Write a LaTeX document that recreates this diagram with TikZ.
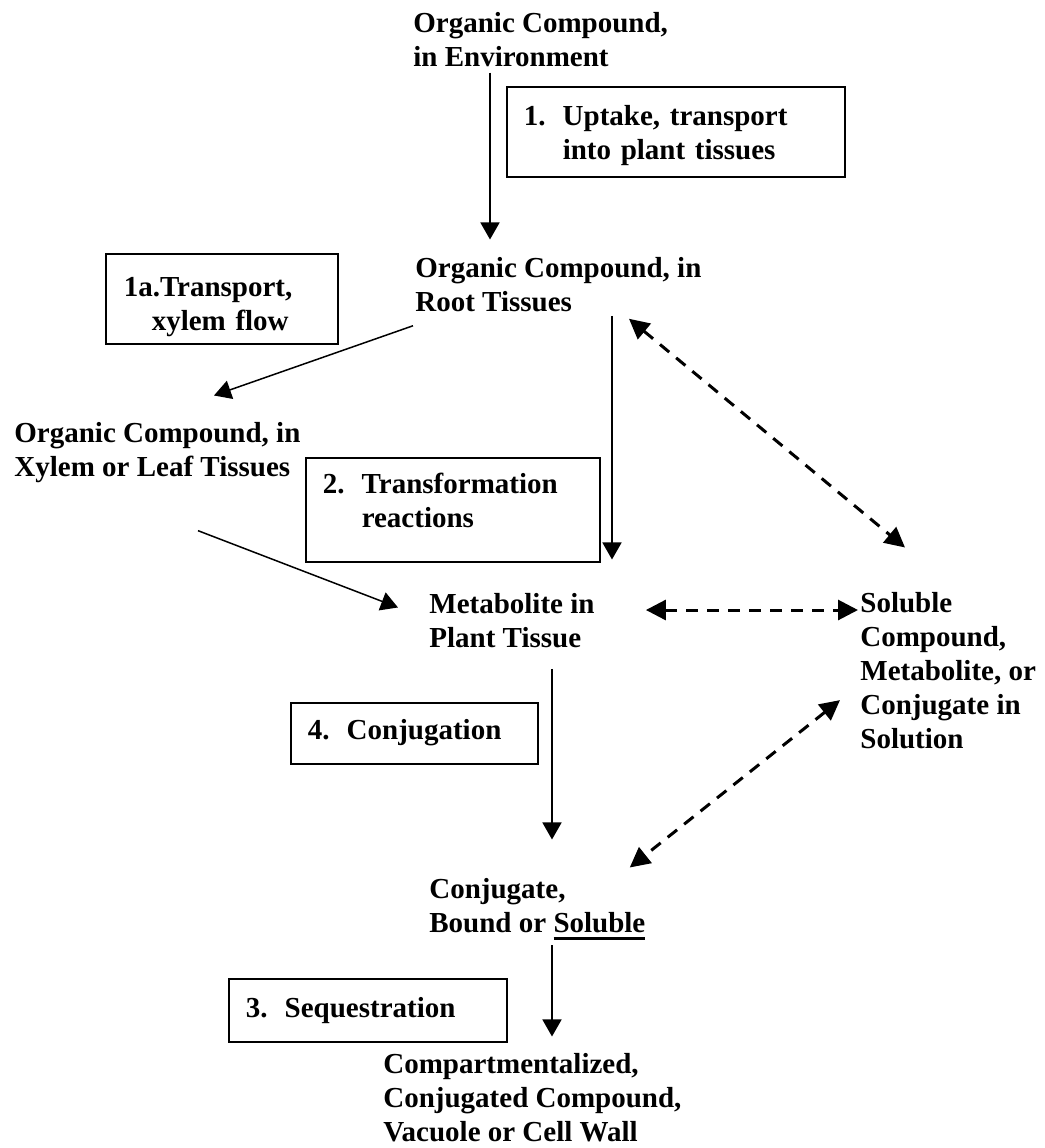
\documentclass[tikz,border=0pt]{standalone}
\usepackage{fontspec}
\setmainfont{Liberation Serif}
\usetikzlibrary{arrows.meta}

\newcommand\ulthick[1]{\setbox0\hbox{#1}\rlap{\rule[-3.75pt]{\wd0}{1.5pt}}\box0}
\newcommand\steplab[1]{\makebox[19.5pt][l]{#1}}

\begin{document}
\begin{tikzpicture}[
    x=0.5pt, y=-0.5pt,
    stage/.style={font=\fontsize{14.5pt}{17pt}\selectfont\bfseries,
                  align=left, inner sep=0pt, anchor=base west},
    stepbox/.style={draw, line width=0.75pt,
                    font=\fontsize{14.5pt}{17pt}\selectfont\bfseries,
                    align=left, inner xsep=8.5pt, inner ysep=0pt,
                    anchor=base west},
    flow/.style={line width=0.75pt, -{Triangle[length=8.5pt,width=9.5pt]}},
    exch/.style={line width=1.5pt, dash pattern=on 6pt off 4.5pt,
                 {Triangle[length=10pt,width=10pt]}-{Triangle[length=10pt,width=10pt]}}
]
\useasboundingbox (0,0) rectangle (1045,1148);

% --- compound stages (placed at the baseline of their last line) ---
\node[stage] (env)   at (413,66)   {Organic Compound,\\in Environment};
\node[stage] (root)  at (415,311)  {Organic Compound, in\\Root Tissues};
\node[stage] (xylem) at (14,476)   {Organic Compound, in\\Xylem or Leaf Tissues};
\node[stage] (metab) at (429,647)  {Metabolite in\\Plant Tissue};
\node[stage] (solu)  at (860,748)  {Soluble\\Compound,\\Metabolite, or\\Conjugate in\\Solution};
\node[stage] (conj)  at (429,932)  {Conjugate,\\Bound or \ulthick{Soluble}};
\node[stage] (comp)  at (383,1141) {Compartmentalized,\\Conjugated Compound,\\Vacuole or Cell Wall};

% --- process boxes ---
\node[stepbox, text width=152pt, text height=19pt, text depth=26pt] (uptake) at (506,125)
    {\steplab{1.}Uptake, transport\\\hspace*{19.5pt}into plant tissues};
\node[stepbox, inner xsep=9pt, text width=98pt, text height=21pt, text depth=24pt] (xylemflow) at (105,296)
    {1a.Transport,\\\hspace*{14pt}xylem flow};
\node[stepbox, text width=130pt, text height=17.5pt, text depth=34.5pt] (transform) at (305,493)
    {\steplab{2.}Transformation\\\hspace*{19.5pt}reactions};
\node[stepbox, text width=106.5pt, text height=18pt, text depth=12.5pt] (conjug) at (290,739)
    {\steplab{4.}Conjugation};
\node[stepbox, text width=122pt, text height=19pt, text depth=12.5pt] (sequest) at (228,1017)
    {\steplab{3.}Sequestration};

% --- uptake and transport ---
\draw[flow] ([xshift=38.5pt,yshift=-3pt]env.south west) -- ([xshift=37.5pt,yshift=8.5pt]root.north west);
\draw[flow] ([xshift=-1pt,yshift=-7pt]root.south west) -- ([xshift=100pt,yshift=13pt]xylem.north west);

% --- transformation ---
\draw[flow] ([xshift=98.5pt,yshift=-2pt]root.south west) -- ([xshift=91.5pt,yshift=16.5pt]metab.north west);
\draw[flow] ([xshift=92pt,yshift=-24pt]xylem.south west) -- ([xshift=-15.5pt,yshift=-7.5pt]metab.north west);

% --- conjugation, sequestration ---
\draw[flow] ([xshift=61.5pt,yshift=-10.5pt]metab.south west) -- ([xshift=61.5pt,yshift=19pt]conj.north west);
\draw[flow] ([xshift=61.5pt,yshift=-6.5pt]conj.base west) -- ([xshift=84.5pt,yshift=8pt]comp.north west);

% --- exchange with solution ---
\draw[exch] ([xshift=107pt,yshift=-3.5pt]root.south west) -- ([xshift=22.5pt,yshift=22pt]solu.north west);
\draw[exch] ([xshift=25.5pt,yshift=18.5pt]metab.base east) -- ([xshift=-1pt,yshift=69pt]solu.base west);
\draw[exch] ([xshift=-10pt,yshift=-15pt]solu.west) -- ([xshift=-8pt,yshift=5pt]conj.north east);

\end{tikzpicture}
\end{document}
